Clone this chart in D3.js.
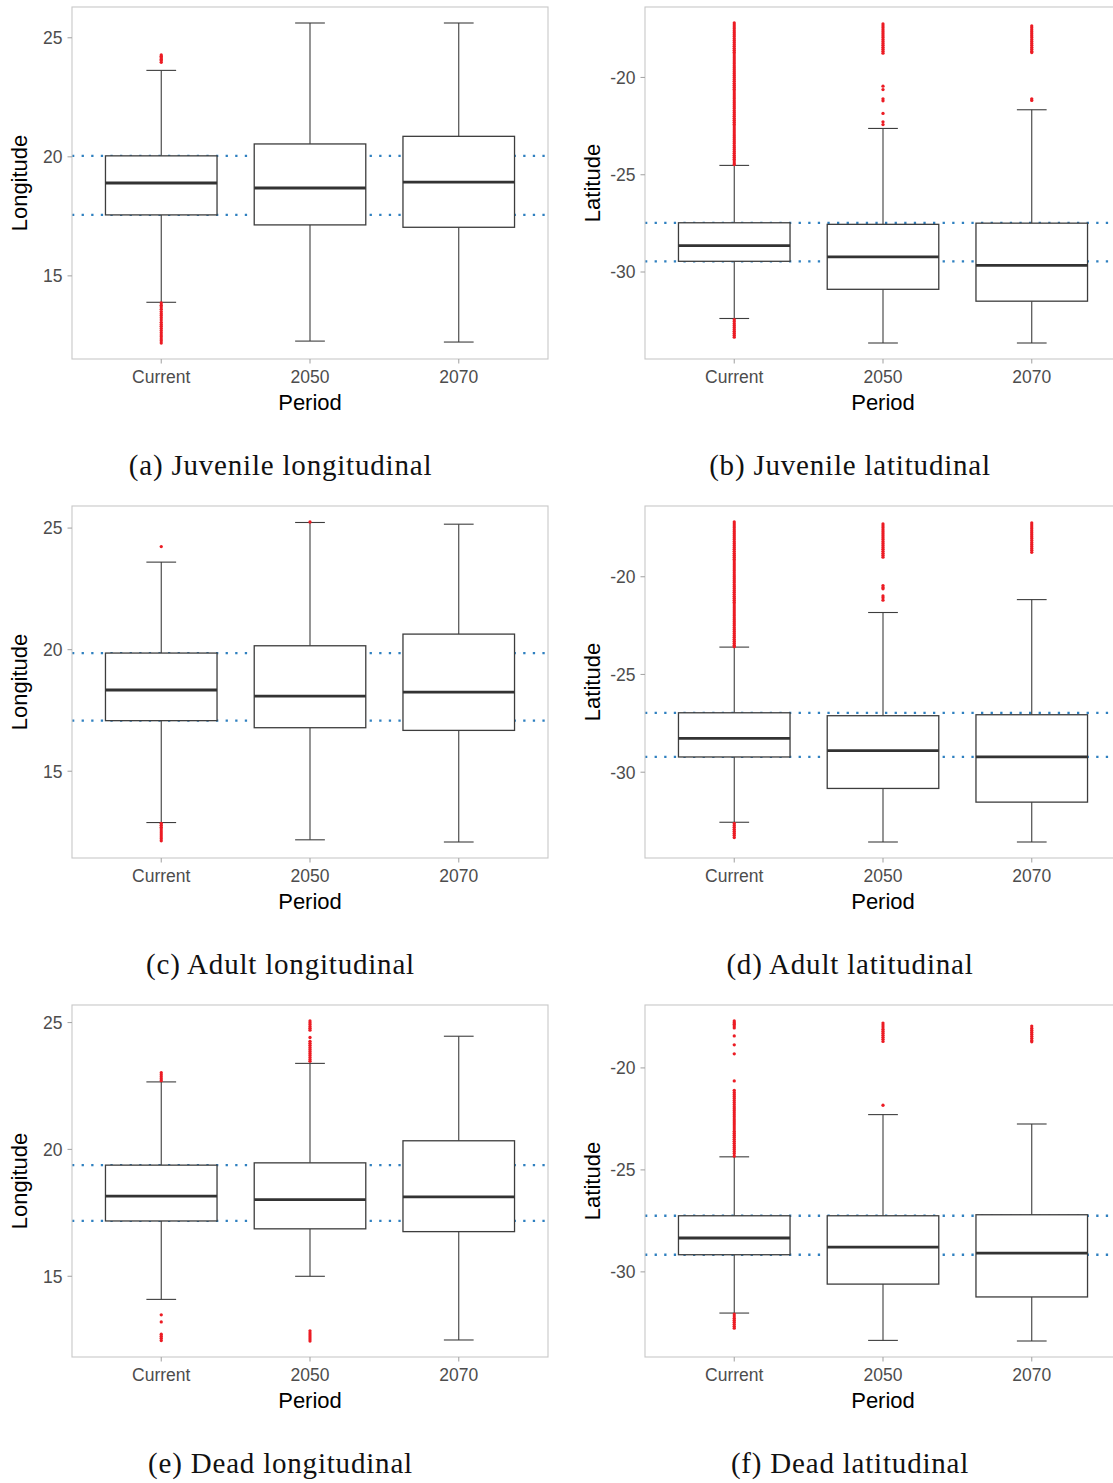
<!DOCTYPE html>
<html>
<head>
<meta charset="utf-8">
<script src="https://cdn.jsdelivr.net/npm/d3@7"></script>
<style>
  body { margin: 0; background: #fff; }
  svg { display: block; }
</style>
</head>
<body>
<svg id="fig"></svg>
<script>
// Periods on the x axis
const periods = ["Current", "2050", "2070"];

// Y-axis tick values
const lonTicks = [15, 20, 25];
const latTicks = [-30, -25, -20];

// Box statistics per period: [lower whisker, Q1, median, Q3, upper whisker]
const juvenileLonBoxes = [
  [13.89, 17.56, 18.90, 20.04, 23.63],
  [12.26, 17.14, 18.69, 20.54, 25.62],
  [12.22, 17.04, 18.94, 20.86, 25.62]
];
const juvenileLatBoxes = [
  [-32.39, -29.45, -28.64, -27.47, -24.52],
  [-33.65, -30.89, -29.22, -27.55, -22.62],
  [-33.65, -31.50, -29.66, -27.49, -21.66]
];
const adultLonBoxes = [
  [12.89, 17.08, 18.34, 19.86, 23.60],
  [12.18, 16.79, 18.09, 20.16, 25.23],
  [12.09, 16.68, 18.25, 20.64, 25.16]
];
const adultLatBoxes = [
  [-32.56, -29.22, -28.27, -26.96, -23.60],
  [-33.57, -30.83, -28.90, -27.11, -21.83],
  [-33.57, -31.53, -29.22, -27.06, -21.17]
];
const deadLonBoxes = [
  [14.09, 17.18, 18.16, 19.38, 22.66],
  [15.00, 16.87, 18.02, 19.47, 23.39],
  [12.49, 16.76, 18.13, 20.34, 24.46]
];
const deadLatBoxes = [
  [-32.02, -29.16, -28.34, -27.25, -24.36],
  [-33.36, -30.60, -28.79, -27.25, -22.29],
  [-33.39, -31.23, -29.08, -27.20, -22.75]
];

// Outlying observations per period
const juvenileLonOutliers = [
  [24.28, 24.22, 24.16, 24.10, 24.04, 23.97,
   13.86, 13.77, 13.69, 13.60, 13.50, 13.41, 13.33, 13.24, 13.15, 13.05, 12.96,
   12.88, 12.79, 12.70, 12.61, 12.52, 12.44, 12.35, 12.27, 12.18],
  [],
  []
];
const juvenileLatOutliers = [
  [-17.2, -17.3, -17.4, -17.5, -17.6, -17.7, -17.8, -17.9, -18.0, -18.1, -18.2,
   -18.3, -18.4, -18.5, -18.6, -18.7, -18.8, -18.9, -19.0, -19.1, -19.2, -19.3,
   -19.4, -19.5, -19.6, -19.7, -19.8, -19.9, -20.0, -20.1, -20.2, -20.3, -20.4,
   -20.5, -20.6, -20.7, -20.8, -20.9, -21.0, -21.1, -21.2, -21.3, -21.4, -21.5,
   -21.6, -21.7, -21.8, -21.9, -22.0, -22.1, -22.2, -22.3, -22.4, -22.5, -22.6,
   -22.7, -22.8, -22.9, -23.0, -23.1, -23.2, -23.3, -23.4, -23.5, -23.6, -23.7,
   -23.8, -23.9, -24.0, -24.1, -24.2, -24.3, -24.4, -24.48,
   -32.45, -32.55, -32.65, -32.75, -32.85, -32.95, -33.05, -33.15, -33.25, -33.35],
  [-17.25, -17.35, -17.45, -17.55, -17.65, -17.75, -17.85, -17.95, -18.05, -18.15,
   -18.25, -18.35, -18.45, -18.55, -18.65, -18.75,
   -20.45, -20.62, -21.10, -21.20, -21.85, -22.28, -22.42],
  [-17.35, -17.45, -17.55, -17.65, -17.75, -17.85, -17.95, -18.05, -18.15, -18.25,
   -18.35, -18.45, -18.55, -18.65, -18.72,
   -21.10, -21.18]
];
const adultLonOutliers = [
  [24.24, 12.86, 12.78, 12.70, 12.62, 12.54, 12.46, 12.38, 12.30, 12.22, 12.14],
  [25.25],
  []
];
const adultLatOutliers = [
  [-17.2, -17.3, -17.4, -17.5, -17.6, -17.7, -17.8, -17.9, -18.0, -18.1, -18.2,
   -18.3, -18.4, -18.5, -18.6, -18.7, -18.8, -18.9, -19.0, -19.1, -19.2, -19.3,
   -19.4, -19.5, -19.6, -19.7, -19.8, -19.9, -20.0, -20.1, -20.2, -20.3, -20.4,
   -20.5, -20.6, -20.7, -20.8, -20.9, -21.0, -21.1, -21.2, -21.3, -21.4, -21.5,
   -21.6, -21.7, -21.8, -21.9, -22.0, -22.1, -22.2, -22.3, -22.4, -22.5, -22.6,
   -22.7, -22.8, -22.9, -23.0, -23.1, -23.2, -23.3, -23.4, -23.5, -23.58,
   -32.62, -32.72, -32.82, -32.92, -33.02, -33.12, -33.22, -33.34],
  [-17.3, -17.4, -17.5, -17.6, -17.7, -17.8, -17.9, -18.0, -18.1, -18.2, -18.3,
   -18.4, -18.5, -18.6, -18.7, -18.8, -18.9, -19.0,
   -20.45, -20.55, -20.62, -20.98, -21.08, -21.20],
  [-17.25, -17.35, -17.45, -17.55, -17.65, -17.75, -17.85, -17.95, -18.05, -18.15,
   -18.25, -18.35, -18.45, -18.55, -18.65, -18.75]
];
const deadLonOutliers = [
  [23.02, 22.94, 22.86, 22.78, 22.71, 13.48, 13.20, 12.72, 12.64, 12.56, 12.47],
  [25.06, 24.99, 24.92, 24.84, 24.77, 24.70, 24.41, 24.26, 24.18, 24.10, 24.02,
   23.94, 23.86, 23.78, 23.70, 23.62, 23.54, 23.47,
   12.85, 12.77, 12.69, 12.61, 12.53, 12.45],
  []
];
const deadLatOutliers = [
  [-17.70, -17.78, -17.86, -17.95, -18.04, -18.43, -18.87, -19.31, -20.64,
   -21.1, -21.2, -21.3, -21.4, -21.5, -21.6, -21.7, -21.8, -21.9, -22.0, -22.1,
   -22.2, -22.3, -22.4, -22.5, -22.6, -22.7, -22.8, -22.9, -23.0, -23.1, -23.2,
   -23.3, -23.4, -23.5, -23.6, -23.7, -23.8, -23.9, -24.0, -24.1, -24.2, -24.33,
   -32.07, -32.17, -32.27, -32.37, -32.47, -32.57, -32.67, -32.76],
  [-17.80, -17.90, -18.00, -18.10, -18.20, -18.30, -18.40, -18.50, -18.60, -18.70,
   -21.83],
  [-17.95, -18.05, -18.15, -18.25, -18.35, -18.45, -18.55, -18.65, -18.72]
];

// Panel captions and axis titles
const captions = [
  "(a) Juvenile longitudinal", "(b) Juvenile latitudinal",
  "(c) Adult longitudinal", "(d) Adult latitudinal",
  "(e) Dead longitudinal", "(f) Dead latitudinal"
];
const xTitle = "Period";
const lonTitle = "Longitude";
const latTitle = "Latitude";

// ---- layout ----
const W = 1113, H = 1483;
const plotW = 476, plotH = 352;
const colX = [72, 645];
const rowY = [7, 506, 1005];
const captionGap = 468;   // caption baseline below panel top

const COLORS = {
  border: "#c8c8c8",
  tick: "#a8a8a8",
  tickText: "#4d4d4d",
  box: "#3d3d3d",
  median: "#333333",
  ref: "#2f80c0",
  outlier: "#ec1c24"
};
const SANS = "'Liberation Sans', Arial, Helvetica, sans-serif";
const SERIF = "'Liberation Serif', 'Times New Roman', serif";

const panels = [
  { boxes: juvenileLonBoxes, outliers: juvenileLonOutliers, ticks: lonTicks, yTitle: lonTitle },
  { boxes: juvenileLatBoxes, outliers: juvenileLatOutliers, ticks: latTicks, yTitle: latTitle },
  { boxes: adultLonBoxes,    outliers: adultLonOutliers,    ticks: lonTicks, yTitle: lonTitle },
  { boxes: adultLatBoxes,    outliers: adultLatOutliers,    ticks: latTicks, yTitle: latTitle },
  { boxes: deadLonBoxes,     outliers: deadLonOutliers,     ticks: lonTicks, yTitle: lonTitle },
  { boxes: deadLatBoxes,     outliers: deadLatOutliers,     ticks: latTicks, yTitle: latTitle }
];

const svg = d3.select("#fig").attr("width", W).attr("height", H)
  .attr("viewBox", `0 0 ${W} ${H}`);
svg.append("rect").attr("width", W).attr("height", H).attr("fill", "#fff");

panels.forEach((p, i) => {
  const col = i % 2, row = Math.floor(i / 2);
  const x0 = colX[col], y0 = rowY[row];
  const g = svg.append("g").attr("transform", `translate(${x0},${y0})`);

  // discrete x scale with 0.6 category padding on each side
  const x = d3.scalePoint().domain(periods).range([0, plotW]).padding(0.6);
  const step = x.step();
  const boxW = step * 0.75, capW = step * 0.2;

  // y range: data extent widened by 5% on both sides
  const allVals = p.boxes.flat().concat(p.outliers.flat());
  const [lo, hi] = d3.extent(allVals);
  const pad = (hi - lo) * 0.05;
  const y = d3.scaleLinear().domain([lo - pad, hi + pad]).range([plotH, 0]);

  // reference lines at the quartiles of the current period
  const cur = p.boxes[0];
  g.selectAll("line.ref").data([cur[1], cur[3]]).join("line")
    .attr("class", "ref")
    .attr("x1", 0).attr("x2", plotW)
    .attr("y1", d => y(d)).attr("y2", d => y(d))
    .attr("stroke", COLORS.ref).attr("stroke-width", 2.3)
    .attr("stroke-dasharray", "2.3 7.3");

  // boxes
  const bg = g.selectAll("g.box").data(p.boxes).join("g").attr("class", "box")
    .attr("transform", (d, k) => `translate(${x(periods[k])},0)`);

  bg.append("line") // upper whisker
    .attr("x1", 0).attr("x2", 0)
    .attr("y1", d => y(d[3])).attr("y2", d => y(d[4]))
    .attr("stroke", COLORS.box).attr("stroke-width", 1.1);
  bg.append("line") // lower whisker
    .attr("x1", 0).attr("x2", 0)
    .attr("y1", d => y(d[1])).attr("y2", d => y(d[0]))
    .attr("stroke", COLORS.box).attr("stroke-width", 1.1);
  bg.append("line") // upper cap
    .attr("x1", -capW / 2).attr("x2", capW / 2)
    .attr("y1", d => y(d[4])).attr("y2", d => y(d[4]))
    .attr("stroke", COLORS.box).attr("stroke-width", 1.1);
  bg.append("line") // lower cap
    .attr("x1", -capW / 2).attr("x2", capW / 2)
    .attr("y1", d => y(d[0])).attr("y2", d => y(d[0]))
    .attr("stroke", COLORS.box).attr("stroke-width", 1.1);
  bg.append("rect")
    .attr("x", -boxW / 2).attr("width", boxW)
    .attr("y", d => y(d[3])).attr("height", d => y(d[1]) - y(d[3]))
    .attr("fill", "#fff").attr("stroke", COLORS.box).attr("stroke-width", 1.3);
  bg.append("line") // median
    .attr("x1", -boxW / 2).attr("x2", boxW / 2)
    .attr("y1", d => y(d[2])).attr("y2", d => y(d[2]))
    .attr("stroke", COLORS.median).attr("stroke-width", 2.8);

  // outliers
  bg.selectAll("circle").data((d, k) => p.outliers[k]).join("circle")
    .attr("cx", 0).attr("cy", v => y(v)).attr("r", 1.65)
    .attr("fill", COLORS.outlier);

  // panel border
  g.append("rect").attr("x", 0).attr("y", 0).attr("width", plotW).attr("height", plotH)
    .attr("fill", "none").attr("stroke", COLORS.border).attr("stroke-width", 1.1);

  // y axis ticks and labels
  const yt = g.selectAll("g.yt").data(p.ticks).join("g").attr("class", "yt")
    .attr("transform", d => `translate(0,${y(d)})`);
  yt.append("line").attr("x1", -4.5).attr("x2", 0)
    .attr("stroke", COLORS.tick).attr("stroke-width", 1.1);
  yt.append("text").attr("x", -9.5).attr("dy", "0.36em")
    .attr("text-anchor", "end").attr("font-family", SANS).attr("font-size", 17.5)
    .attr("fill", COLORS.tickText).text(d => d);

  // x axis ticks and labels
  const xt = g.selectAll("g.xt").data(periods).join("g").attr("class", "xt")
    .attr("transform", d => `translate(${x(d)},${plotH})`);
  xt.append("line").attr("y1", 0).attr("y2", 4.5)
    .attr("stroke", COLORS.tick).attr("stroke-width", 1.1);
  xt.append("text").attr("y", 24).attr("text-anchor", "middle")
    .attr("font-family", SANS).attr("font-size", 17.5)
    .attr("fill", COLORS.tickText).text(d => d);

  // axis titles
  g.append("text").attr("x", plotW / 2).attr("y", plotH + 51)
    .attr("text-anchor", "middle").attr("font-family", SANS).attr("font-size", 22)
    .attr("fill", "#000").text(xTitle);
  g.append("text")
    .attr("transform", `translate(-45,${plotH / 2}) rotate(-90)`)
    .attr("text-anchor", "middle").attr("font-family", SANS).attr("font-size", 22)
    .attr("fill", "#000").text(p.yTitle);

  // caption
  g.append("text").attr("x", col === 0 ? 208.5 : 205).attr("y", captionGap)
    .attr("text-anchor", "middle").attr("font-family", SERIF).attr("font-size", 29)
    .attr("letter-spacing", 0.8).attr("fill", "#111").text(captions[i]);
});
</script>
</body>
</html>
